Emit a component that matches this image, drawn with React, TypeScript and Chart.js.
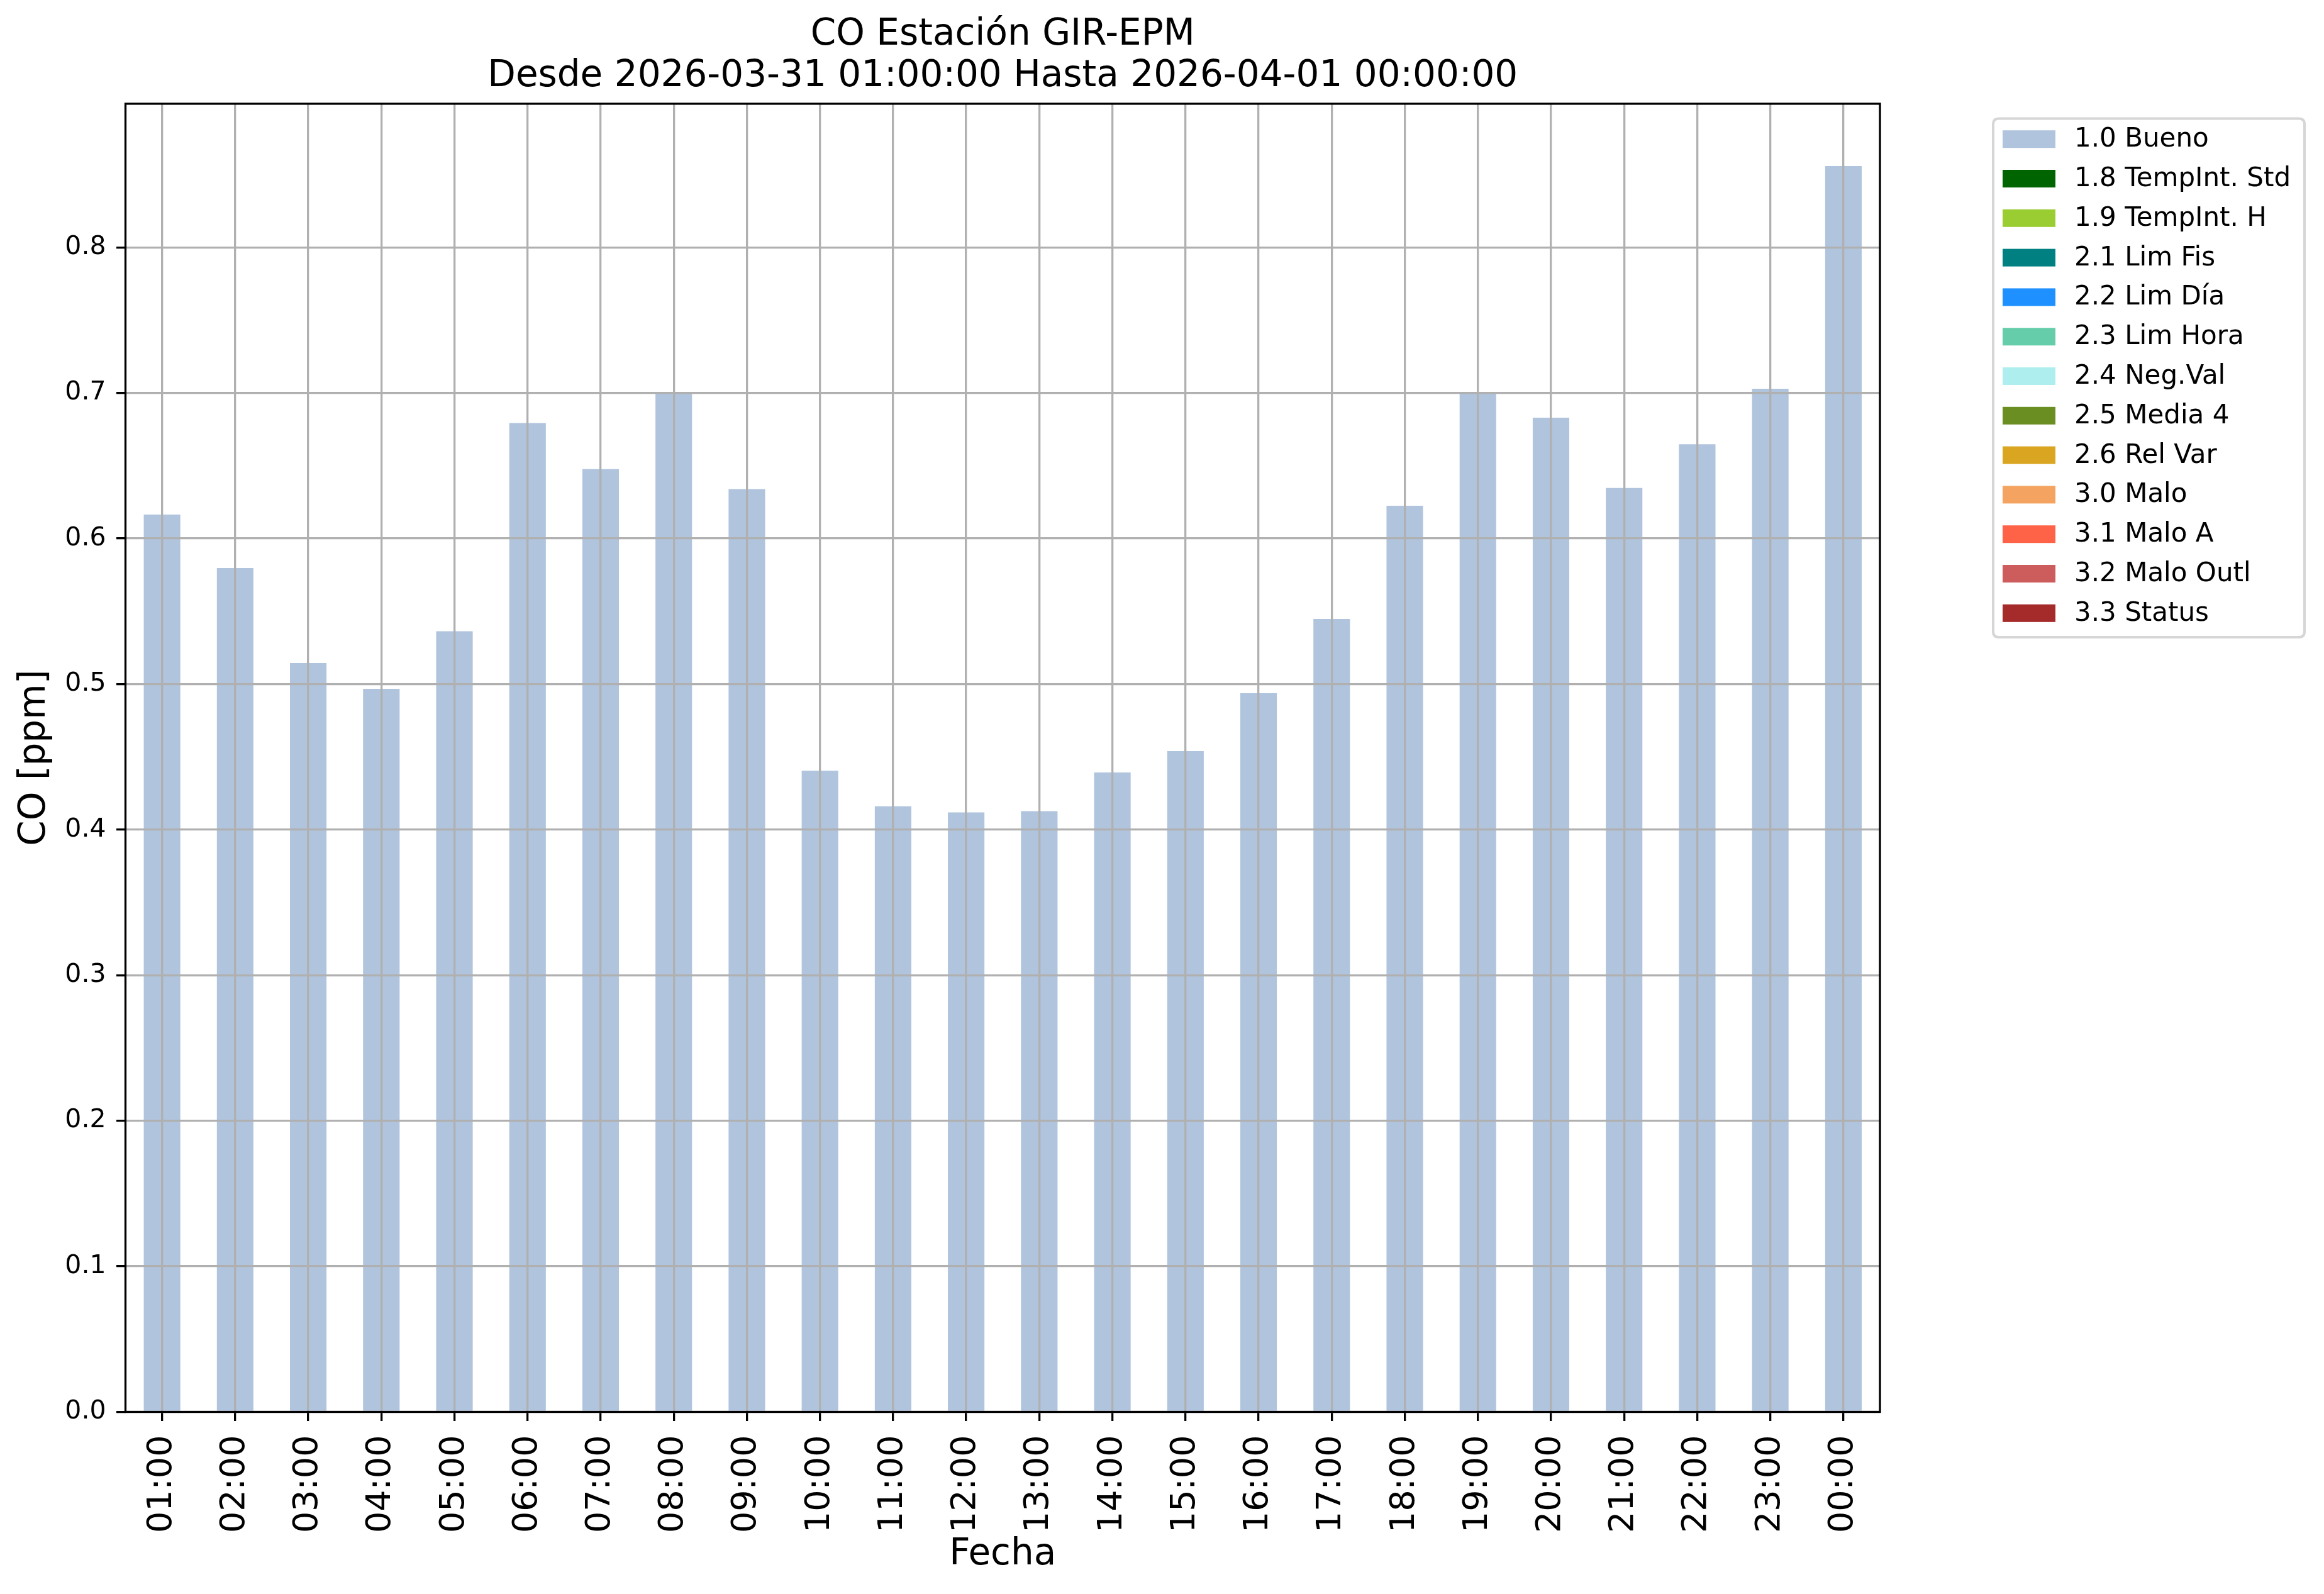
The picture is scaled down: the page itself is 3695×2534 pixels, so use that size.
import { useEffect, useRef } from "react";
import { Chart, registerables } from "chart.js";

Chart.register(...registerables);

// ---- data ----
const hours = [
  "01:00", "02:00", "03:00", "04:00", "05:00", "06:00", "07:00", "08:00",
  "09:00", "10:00", "11:00", "12:00", "13:00", "14:00", "15:00", "16:00",
  "17:00", "18:00", "19:00", "20:00", "21:00", "22:00", "23:00", "00:00",
];

const buenoValues = [
  0.6165, 0.5797, 0.5145, 0.4968, 0.5363, 0.6794, 0.6477, 0.7000,
  0.6340, 0.4405, 0.4161, 0.4118, 0.4127, 0.4393, 0.4540, 0.4937,
  0.5447, 0.6225, 0.7006, 0.6830, 0.6347, 0.6648, 0.7029, 0.8559,
];

const seriesLabels = [
  "1.0 Bueno", "1.8 TempInt. Std", "1.9 TempInt. H", "2.1 Lim Fis",
  "2.2 Lim Día", "2.3 Lim Hora", "2.4 Neg.Val", "2.5 Media 4",
  "2.6 Rel Var", "3.0 Malo", "3.1 Malo A", "3.2 Malo Outl", "3.3 Status",
];

const seriesColors = [
  "#B0C4DE", "#006400", "#9ACD32", "#008080",
  "#1E90FF", "#66CDAA", "#AFEEEE", "#6B8E23",
  "#DAA520", "#F4A460", "#FF6347", "#CD5C5C", "#A52A2A",
];

// only "1.0 Bueno" has values in this period; other flags are empty
const seriesValues: number[][] = [buenoValues, [], [], [], [], [], [], [], [], [], [], [], []];

const titleLines = ["CO Estación GIR-EPM", "Desde 2026-03-31 01:00:00 Hasta 2026-04-01 00:00:00"];
const xTitle = "Fecha";
const yTitle = "CO [ppm]";
const Y_MIN = 0;
const Y_MAX = 0.8987;
const Y_STEP = 0.1;

const FONT = "'DejaVu Sans', 'Liberation Sans', sans-serif";

const framePlugin = {
  id: "frame",
  afterDraw(chart: any) {
    const { ctx, chartArea } = chart;
    ctx.save();
    ctx.strokeStyle = "#000";
    ctx.lineWidth = 3.3;
    ctx.strokeRect(chartArea.left, chartArea.top, chartArea.right - chartArea.left, chartArea.bottom - chartArea.top);
    ctx.restore();
  },
};

function roundRect(ctx: CanvasRenderingContext2D, x: number, y: number, w: number, h: number, r: number) {
  ctx.beginPath();
  ctx.moveTo(x + r, y);
  ctx.lineTo(x + w - r, y);
  ctx.quadraticCurveTo(x + w, y, x + w, y + r);
  ctx.lineTo(x + w, y + h - r);
  ctx.quadraticCurveTo(x + w, y + h, x + w - r, y + h);
  ctx.lineTo(x + r, y + h);
  ctx.quadraticCurveTo(x, y + h, x, y + h - r);
  ctx.lineTo(x, y + r);
  ctx.quadraticCurveTo(x, y, x + r, y);
  ctx.closePath();
}

const legendPlugin = {
  id: "sideLegend",
  afterDraw(chart: any) {
    const { ctx } = chart;
    const datasets = chart.data.datasets;
    const boxX = 3169;
    const boxY = 188.5;
    const boxW = 495;
    const boxH = 824.5;
    ctx.save();
    roundRect(ctx, boxX, boxY, boxW, boxH, 9);
    ctx.fillStyle = "#ffffff";
    ctx.fill();
    ctx.strokeStyle = "#d6d6d6";
    ctx.lineWidth = 4;
    ctx.stroke();
    const firstRow = 221.2;
    const rowStep = 62.8;
    ctx.font = `42px ${FONT}`;
    ctx.textBaseline = "middle";
    ctx.textAlign = "left";
    datasets.forEach((ds: any, i: number) => {
      const cy = firstRow + i * rowStep;
      ctx.fillStyle = ds.backgroundColor;
      ctx.fillRect(3184, cy - 14, 84, 28);
      ctx.fillStyle = "#000";
      ctx.fillText(ds.label, 3298, cy + 1);
    });
    ctx.restore();
  },
};

export default function App() {
  const canvasRef = useRef<HTMLCanvasElement | null>(null);

  useEffect(() => {
    if (!canvasRef.current) return;
    const chart = new Chart(canvasRef.current, {
      type: "bar",
      data: {
        labels: hours,
        datasets: seriesLabels.map((label, i) => ({
          label,
          data: seriesValues[i],
          backgroundColor: seriesColors[i],
          borderWidth: 0,
          barPercentage: 0.5,
          categoryPercentage: 1.0,
        })),
      },
      options: {
        animation: false,
        responsive: false,
        devicePixelRatio: 1,
        events: [],
        layout: { padding: { left: 0, right: 706, top: 0, bottom: 0 } },
        plugins: {
          legend: { display: false },
          tooltip: { enabled: false },
          title: {
            display: true,
            text: titleLines,
            fullSize: false,
            color: "#000",
            font: { family: FONT, size: 58, weight: "normal", lineHeight: 1.133 },
            padding: { top: 23, bottom: 10.5 },
          },
        },
        scales: {
          x: {
            stacked: true,
            offset: true,
            afterFit(scale: any) {
              scale.height = 289.5;
            },
            grid: {
              display: true,
              offset: false,
              z: 1,
              color: "#b0b0b0",
              lineWidth: 3.3,
              drawTicks: true,
              tickLength: 14.5,
              tickColor: "#000",
              tickWidth: 3.3,
            },
            border: { display: false },
            ticks: {
              autoSkip: false,
              minRotation: 90,
              maxRotation: 90,
              padding: 22.5,
              color: "#000",
              font: { family: FONT, size: 54 },
            },
            title: {
              display: true,
              text: xTitle,
              color: "#000",
              font: { family: FONT, size: 58, lineHeight: 1.2 },
              padding: { top: 0, bottom: 27.5 },
            },
          },
          y: {
            stacked: true,
            min: Y_MIN,
            max: Y_MAX,
            bounds: "data",
            afterFit(scale: any) {
              scale.width = 199.5;
            },
            grid: {
              display: true,
              z: 1,
              color: "#b0b0b0",
              lineWidth: 3.3,
              drawTicks: true,
              tickLength: 14.5,
              tickColor: "#000",
              tickWidth: 3.3,
            },
            border: { display: false },
            ticks: {
              stepSize: Y_STEP,
              includeBounds: false,
              padding: 16.5,
              color: "#000",
              font: { family: FONT, size: 41 },
              callback: (v: any) => Number(v).toFixed(1),
            },
            title: {
              display: true,
              text: yTitle,
              color: "#000",
              font: { family: FONT, size: 58, lineHeight: 1.2 },
              padding: { top: 21, bottom: 0 },
            },
          },
        },
      },
      plugins: [framePlugin, legendPlugin],
    } as any);
    return () => chart.destroy();
  }, []);

  return (
    <canvas
      ref={canvasRef}
      width={3695}
      height={2534}
      style={{ position: "absolute", left: 0, top: 0, width: 3695, height: 2534, display: "block", background: "#fff" }}
    />
  );
}
